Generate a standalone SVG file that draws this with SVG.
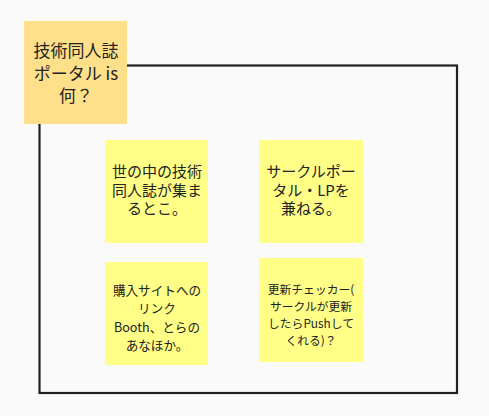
<svg xmlns="http://www.w3.org/2000/svg" width="489" height="416" viewBox="0 0 489 416">
<style>
.bg{fill:#fafafa}
.frame{fill:none;stroke:#222;stroke-width:2.2}
.hdr{fill:#ffe08a}
.st{fill:#ffff88}
text{font-family:"Noto Sans CJK JP","Noto Sans",sans-serif;fill:#222;text-anchor:middle}
.t17{font-size:17px}
.t15{font-size:15px}
.t13{font-size:12.6px}
.t12{font-size:11.8px}
</style>
<rect class="bg" x="0" y="0" width="489" height="416"/>
<g id="frame"><rect class="frame" x="39.5" y="65.5" width="417.5" height="327.5"/></g>
<g id="connectors"></g>
<g id="header">
<rect class="hdr" x="24" y="21" width="103" height="103"/>
<text class="t17" x="76" y="57">技術同人誌</text>
<text class="t17" x="76" y="79.5">ポータル is</text>
<text class="t17" x="76" y="102">何？</text>
</g>
<g id="note1">
<rect class="st" x="105" y="140" width="103" height="103"/>
<text class="t15" x="157" y="177">世の中の技術</text>
<text class="t15" x="157" y="195.5">同人誌が集ま</text>
<text class="t15" x="157" y="214">るとこ。</text>
</g>
<g id="note2">
<rect class="st" x="259" y="140" width="104" height="103"/>
<text class="t15" x="311" y="177">サークルポー</text>
<text class="t15" x="311" y="195.5">タル・LPを</text>
<text class="t15" x="311" y="214">兼ねる。</text>
</g>
<g id="note3">
<rect class="st" x="105" y="262" width="103" height="103"/>
<text class="t13" x="157" y="294.5">購入サイトへの</text>
<text class="t13" x="157" y="313">リンク</text>
<text class="t13" x="157" y="331.5">Booth、とらの</text>
<text class="t13" x="157" y="350">あなほか。</text>
</g>
<g id="note4">
<rect class="st" x="259" y="258" width="104" height="104"/>
<text class="t12" x="311" y="293.5">更新チェッカー(</text>
<text class="t12" x="311" y="310.5">サークルが更新</text>
<text class="t12" x="311" y="327.5">したらPushして</text>
<text class="t12" x="311" y="344.5">くれる)？</text>
</g>
</svg>
